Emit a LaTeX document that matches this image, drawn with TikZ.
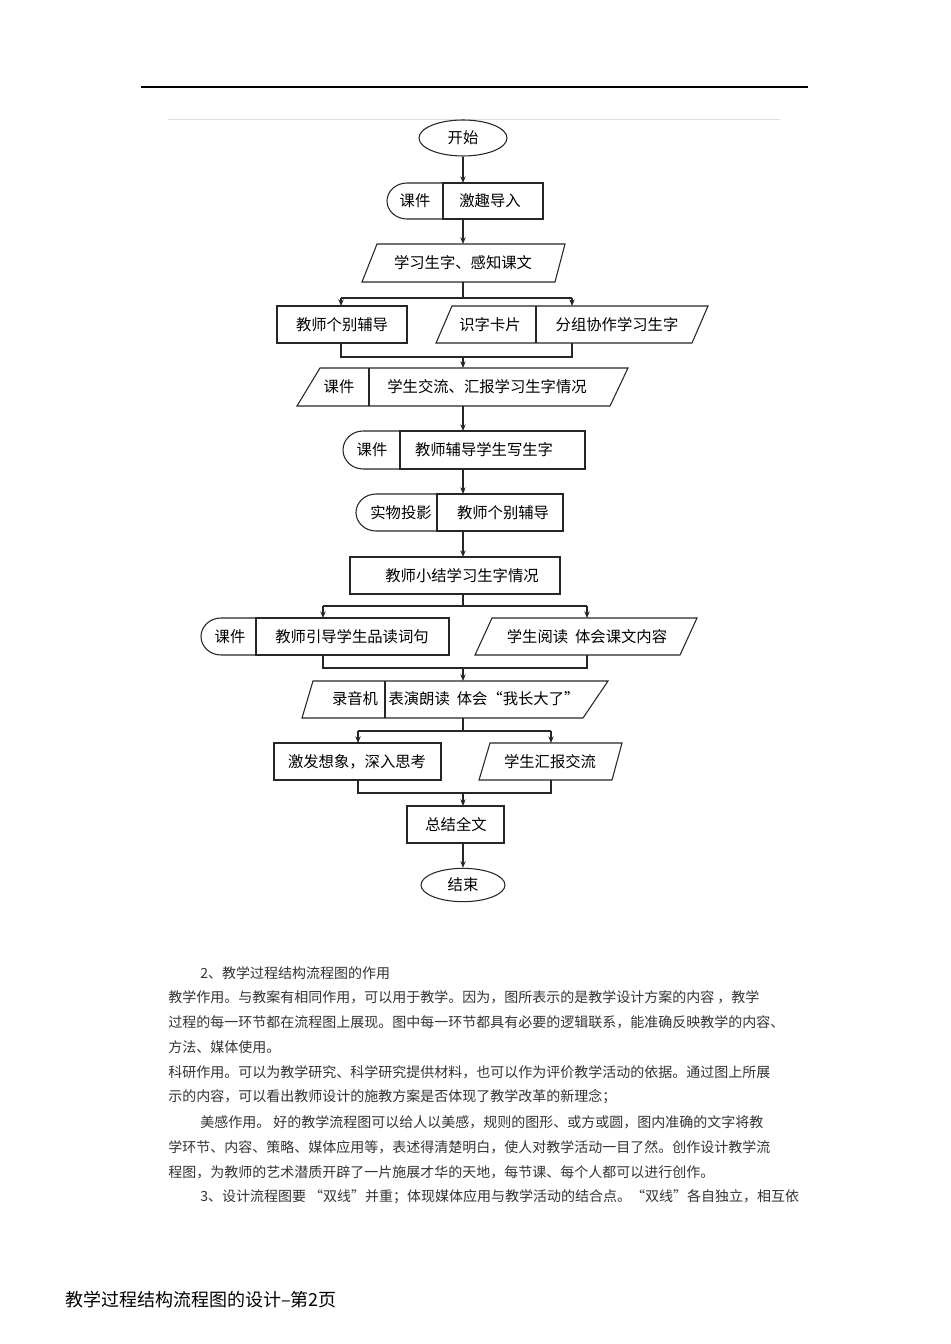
\documentclass[tikz,border=0pt]{standalone}
\usepackage{fontspec}
\setmainfont{Noto Sans CJK SC}
\usetikzlibrary{arrows.meta,shapes.geometric}
\tikzset{
  ln/.style={line width=0.8pt,draw=black!85},
  arr/.style={ln,-{Stealth[length=5pt,width=4pt]}},
  lbl/.style={font=\fontsize{11.5}{12}\selectfont,inner sep=0pt},
  body/.style={font=\fontsize{10.5}{12}\selectfont,anchor=west,inner sep=0pt,text=black!80},
}
\newcommand\halfstad[4]{%
 \pgfmathsetmacro\hm{(#2+#3)/2}\pgfmathsetmacro\hh{(#3-#2)/2}%
 \draw[ln] (#4,#2) -- (#1+20,#2) .. controls (#1+9,#2) and (#1,\hm-0.55*\hh) .. (#1,\hm)
   .. controls (#1,\hm+0.55*\hh) and (#1+9,#3) .. (#1+20,#3) -- (#4,#3);}
\newcommand\paragr[6]{%
 \draw[ln] (#1,#6) -- (#2,#5) -- (#3,#5) -- (#4,#6) -- cycle;}
\begin{document}
\begin{tikzpicture}[x=0.75pt,y=-0.75pt]
\useasboundingbox (0,0) rectangle (950,1344);
\draw[line width=0.8pt] (141,87) -- (808,87);
\draw[black!12,line width=0.5pt] (168,119) -- (780,119);
% start
\node[ln,ellipse,minimum width=66pt,minimum height=27pt,lbl] (start) at (463,138) {开始};
% row 2
\halfstad{387}{183}{219}{443}
\draw[ln] (443,183) rectangle (543,219);
\node[lbl] (r2a) at (415,201) {课件};
\node[lbl] (r2b) at (490,201) {激趣导入};
\coordinate (r2t) at (463,183); \coordinate (r2bot) at (463,219);
% row 3
\paragr{362}{377}{565}{555}{244}{282}
\node[lbl] (r3) at (463,263) {学习生字、感知课文};
\coordinate (r3t) at (463,244); \coordinate (r3b) at (463,282);
% row 4
\draw[ln] (277,306) rectangle (407,343);
\node[lbl] (r4a) at (342,325) {教师个别辅导};
\paragr{436}{452}{708}{692}{306}{343}
\draw[ln] (536,306) -- (536,343);
\node[lbl] (r4b) at (490,325) {识字卡片};
\node[lbl] (r4c) at (617,325) {分组协作学习生字};
\coordinate (s1) at (463,298); \coordinate (s1l) at (341,298); \coordinate (s1r) at (572,298);
\coordinate (a4l) at (341,306); \coordinate (a4r) at (572,306);
\coordinate (j1l) at (341,357); \coordinate (j1r) at (572,357); \coordinate (j1) at (463,357);
\coordinate (b4l) at (341,343); \coordinate (b4r) at (572,343);
% row 5
\paragr{297}{320}{628}{610}{368}{406}
\draw[ln] (369,368) -- (369,406);
\node[lbl] (r5a) at (339,387) {课件};
\node[lbl] (r5txt) at (487,387) {学生交流、汇报学习生字情况};
\coordinate (r5t) at (463,368); \coordinate (r5b) at (463,406);
% row 6
\halfstad{343}{431}{469}{400}
\draw[ln,line width=1pt] (400,431) rectangle (585,469);
\node[lbl] (r6a) at (372,450) {课件};
\node[lbl] (r6txt) at (484,450) {教师辅导学生写生字};
\coordinate (r6t) at (463,431); \coordinate (r6b) at (463,469);
% row 7
\halfstad{356}{494}{531}{437}
\draw[ln] (437,494) rectangle (563,531);
\node[lbl] (r7a) at (401,513) {实物投影};
\node[lbl] (r7txt) at (503,513) {教师个别辅导};
\coordinate (r7t) at (463,494); \coordinate (r7b) at (463,531);
% row 8
\draw[ln] (350,557) rectangle (560,594);
\node[lbl] (r8) at (462,576) {教师小结学习生字情况};
\coordinate (r8t) at (463,557); \coordinate (r8b) at (463,594);
% row 9
\coordinate (s2) at (463,606); \coordinate (s2l) at (323,606); \coordinate (s2r) at (587,606);
\coordinate (a9l) at (323,618); \coordinate (a9r) at (587,618);
\halfstad{201}{618}{655}{256}
\draw[ln] (256,618) rectangle (449,655);
\node[lbl] (r9a) at (230,637) {课件};
\node[lbl] (r9b) at (352,637) {教师引导学生品读词句};
\paragr{475}{492}{697}{680}{618}{655}
\node[lbl] (r9c) at (587,637) {学生阅读\ \ 体会课文内容};
\coordinate (b9l) at (323,655); \coordinate (b9r) at (587,655);
\coordinate (j2l) at (323,668); \coordinate (j2r) at (587,668); \coordinate (j2) at (463,668);
% row 10
\paragr{302}{313}{608}{583}{681}{718}
\draw[ln] (385,681) -- (385,718);
\node[lbl] (r10a) at (355,699) {录音机};
\node[lbl] (r10txt) at (484,699) {表演朗读\ \ 体会“我长大了”};
\coordinate (r10t) at (463,681); \coordinate (r10b) at (463,718);
% row 11
\coordinate (s3) at (463,731); \coordinate (s3l) at (358,731); \coordinate (s3r) at (551,731);
\coordinate (a11l) at (358,743); \coordinate (a11r) at (551,743);
\draw[ln] (274,743) rectangle (441,780);
\node[lbl] (r11a) at (357,762) {激发想象，深入思考};
\paragr{479}{490}{622}{612}{743}{780}
\node[lbl] (r11b) at (550,762) {学生汇报交流};
\coordinate (b11l) at (358,780); \coordinate (b11r) at (551,780);
\coordinate (j3l) at (358,793); \coordinate (j3r) at (551,793); \coordinate (j3) at (463,793);
% row 12
\draw[ln] (407,806) rectangle (504,843);
\node[lbl] (r12) at (456,825) {总结全文};
\coordinate (r12t) at (463,806); \coordinate (r12b) at (463,843);
\node[ln,ellipse,minimum width=63pt,minimum height=25pt,lbl] (end) at (463,885) {结束};
% connectors
\draw[arr] (start.south) -- (r2t);
\draw[arr] (r2bot) -- (r3t);
\draw[ln] (r3b) -- (s1); \draw[ln] (s1l) -- (s1r);
\draw[arr] (s1l) -- (a4l); \draw[arr] (s1r) -- (a4r);
\draw[ln] (b4l) -- (j1l) -- (j1r) -- (b4r);
\draw[arr] (j1) -- (r5t);
\draw[arr] (r5b) -- (r6t);
\draw[arr] (r6b) -- (r7t);
\draw[arr] (r7b) -- (r8t);
\draw[ln] (r8b) -- (s2); \draw[ln] (s2l) -- (s2r);
\draw[arr] (s2l) -- (a9l); \draw[arr] (s2r) -- (a9r);
\draw[ln] (b9l) -- (j2l) -- (j2r) -- (b9r);
\draw[arr] (j2) -- (r10t);
\draw[ln] (r10b) -- (s3); \draw[ln] (s3l) -- (s3r);
\draw[arr] (s3l) -- (a11l); \draw[arr] (s3r) -- (a11r);
\draw[ln] (b11l) -- (j3l) -- (j3r) -- (b11r);
\draw[arr] (j3) -- (r12t);
\draw[arr] (r12b) -- (end.north);
% body text
\node[body] (t1) at (200,973) {2、教学过程结构流程图的作用};
\node[body] (t2) at (168,997) {教学作用。与教案有相同作用，可以用于教学。因为，图所表示的是教学设计方案的内容\ ，教学};
\node[body] (t3) at (168,1022) {过程的每一环节都在流程图上展现。图中每一环节都具有必要的逻辑联系，能准确反映教学的内容、};
\node[body] (t4) at (168,1047) {方法、媒体使用。};
\node[body] (t5) at (168,1072) {科研作用。可以为教学研究、科学研究提供材料，也可以作为评价教学活动的依据。通过图上所展};
\node[body] (t6) at (168,1097) {示的内容，可以看出教师设计的施教方案是否体现了教学改革的新理念；};
\node[body] (t7) at (200,1122) {美感作用。\ 好的教学流程图可以给人以美感，规则的图形、或方或圆，图内准确的文字将教};
\node[body] (t8) at (168,1147) {学环节、内容、策略、媒体应用等，表述得清楚明白，使人对教学活动一目了然。创作设计教学流};
\node[body] (t9) at (168,1172) {程图，为教师的艺术潜质开辟了一片施展才华的天地，每节课、每个人都可以进行创作。};
\node[body] (t10) at (200,1197) {3、设计流程图要\ “双线”并重；体现媒体应用与教学活动的结合点。“双线”各自独立，相互依};
\node[anchor=west,inner sep=0pt,font=\fontsize{13.5}{15}\selectfont] (foot) at (65,1300) {教学过程结构流程图的设计--第2页};
\end{tikzpicture}
\end{document}
